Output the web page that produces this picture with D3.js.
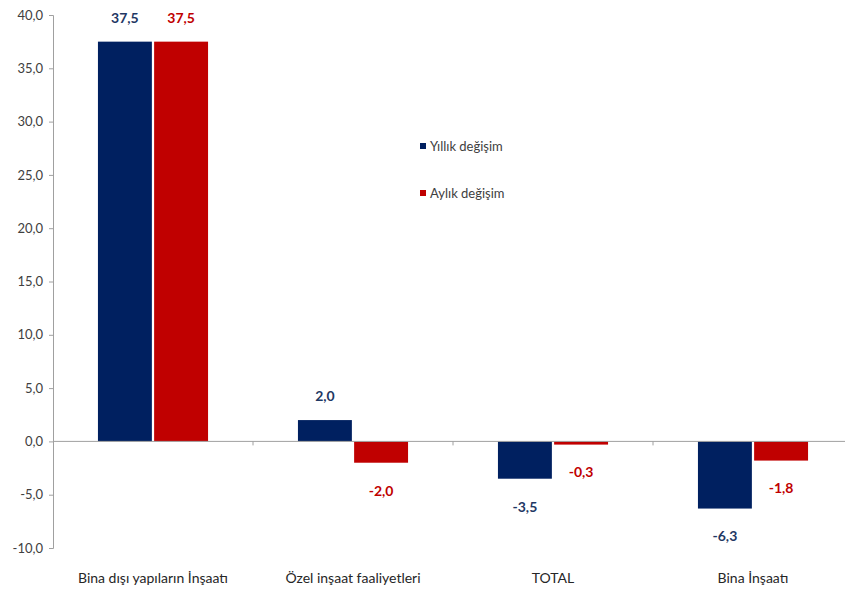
<!DOCTYPE html>
<html>
<head>
<meta charset="utf-8">
<script src="https://cdn.jsdelivr.net/npm/d3@7"></script>
<style>
  body { margin:0; background:#fff; }
  svg text { font-family: Lato, "Open Sans", sans-serif; }
</style>
</head>
<body>
<div id="vis"></div>
<script>
// data
var categories = ["Bina dışı yapıların İnşaatı", "Özel inşaat faaliyetleri", "TOTAL", "Bina İnşaatı"]
var seriesNames = ["Yıllık değişim", "Aylık değişim"]
var yillik = [37.5, 2.0, -3.5, -6.3]
var aylik = [37.5, -2.0, -0.3, -1.8]
var yTicks = [40, 35, 30, 25, 20, 15, 10, 5, 0, -5, -10]
var colors = ["#002060", "#c00000"]
var labelColors = ["#1f3864", "#c00000"]

var width = 845, height = 595
var margin = {left:53, top:15, bottom:47}

var svg = d3.select("#vis").append("svg")
    .attr("width", width).attr("height", height)

var y = d3.scaleLinear().domain([-10, 40])
    .range([height - margin.bottom, margin.top])

var x = d3.scaleBand().domain(categories)
    .range([margin.left, margin.left + 800])

var inner = d3.scaleBand().domain([0, 1])
    .range([0, x.bandwidth()]).paddingInner(0.04).paddingOuter(0.8)

var fmt = function(v){ return d3.format(".1f")(v).replace(".", ",").replace("\u2212", "-") }

//y axis
var yAxis = svg.append("g").attr("transform", "translate(" + margin.left + ",0)")
    .call(d3.axisLeft(y).tickValues(yTicks).tickSize(4).tickFormat(fmt))
yAxis.select(".domain").attr("stroke", "#a0a0a0")
yAxis.selectAll(".tick line").attr("stroke", "#a0a0a0")
yAxis.selectAll(".tick text").attr("fill", "#404040").style("font-size", "13px").attr("x", -10)

//bars
var series = [yillik, aylik]
series.forEach(function(vals, s){
    var g = svg.append("g")
    g.selectAll("rect").data(vals).enter().append("rect")
        .attr("x", function(d, i){ return x(categories[i]) + inner(s) })
        .attr("width", inner.bandwidth())
        .attr("y", function(d){ return y(Math.max(0, d)) })
        .attr("height", function(d){ return Math.abs(y(d) - y(0)) })
        .attr("fill", colors[s])
    g.selectAll("text").data(vals).enter().append("text")
        .attr("x", function(d, i){ return x(categories[i]) + inner(s) + inner.bandwidth()/2 })
        .attr("y", function(d){ return d >= 0 ? y(d) - 24 : y(d) + 28 })
        .attr("dy", "0.35em")
        .attr("text-anchor", "middle")
        .attr("fill", labelColors[s])
        .style("font-size", "14px").style("font-weight", "bold")
        .text(fmt)
})

//x axis at zero
var xAxis = svg.append("g").attr("transform", "translate(0," + y(0) + ")")
xAxis.append("line").attr("x1", margin.left).attr("x2", width)
    .attr("stroke", "#a0a0a0")
xAxis.selectAll(".xt").data(categories.slice(1)).enter().append("line")
    .attr("x1", function(d){ return x(d) }).attr("x2", function(d){ return x(d) })
    .attr("y1", 0).attr("y2", 4).attr("stroke", "#a0a0a0")

svg.append("g").selectAll("text").data(categories).enter().append("text")
    .attr("x", function(d){ return x(d) + x.bandwidth()/2 })
    .attr("y", 578).attr("dy", "0.35em")
    .attr("text-anchor", "middle")
    .attr("fill", "#262626").style("font-size", "14px")
    .text(function(d){ return d })

//legend
var legend = svg.append("g").selectAll("g").data(seriesNames).enter().append("g")
    .attr("transform", function(d, i){ return "translate(420," + (146 + i*47) + ")" })
legend.append("rect").attr("x", 0).attr("y", -3).attr("width", 6).attr("height", 6)
    .attr("fill", function(d, i){ return colors[i] })
legend.append("text").attr("x", 10).attr("dy", "0.35em")
    .attr("fill", "#404040").style("font-size", "13px")
    .text(function(d){ return d })
</script>
</body>
</html>
